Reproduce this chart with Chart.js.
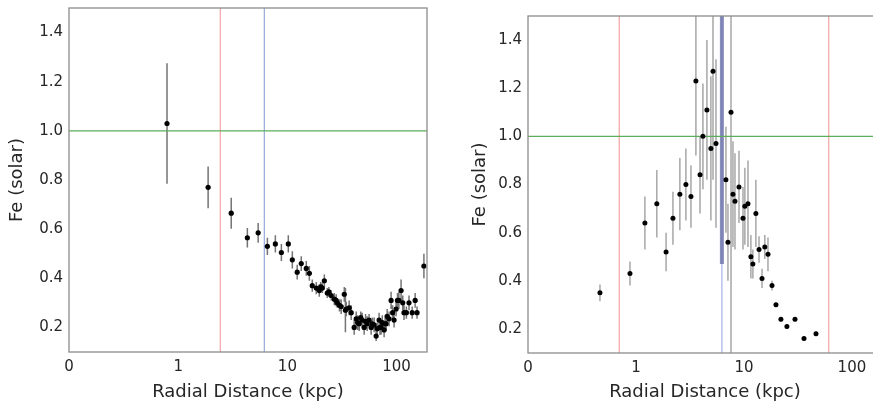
<!DOCTYPE html>
<html>
<head>
<meta charset="utf-8">
<script src="https://cdn.jsdelivr.net/npm/chart.js@4.4.1/dist/chart.umd.min.js"></script>
<style>
  html, body { margin: 0; padding: 0; overflow: hidden; background: #fff; }
  #wrap { position: relative; width: 873px; height: 401px; overflow: hidden; }
  canvas { position: absolute; top: 0; }
  #leftChart { left: 0; }
  #rightChart { left: 440px; }
</style>
</head>
<body>
<div id="wrap">
  <canvas id="leftChart" width="440" height="401"></canvas>
  <canvas id="rightChart" width="450" height="401"></canvas>
</div>
<script>
// 축 눈금
const xTickValues = [0.1, 1, 10, 100];
const xTickLabels = ['0', '1', '10', '100'];
const yTickValues = [0.2, 0.4, 0.6, 0.8, 1.0, 1.2, 1.4];

// 왼쪽 패널 (radial distance kpc, Fe solar, error)
const leftR = [0.79, 1.88, 3.06, 4.3, 5.4, 6.56, 7.76, 8.81, 10.2, 11.1, 12.3, 13.4, 14.9, 15.9, 16.9, 18.4, 19.6, 20.2, 20.9, 21.8,
  23.2, 24.0, 25.2, 26.9, 28.0, 28.6, 30.0, 31.1, 33.2, 34.0, 34.6, 36.8, 38.4, 40.9, 42.7, 44.0, 45.5, 47.0, 48.4, 50.5,
  52.0, 53.8, 56.0, 58.5, 60.0, 62.3, 65.0, 66.5, 69.2, 70.5, 72.2, 74.0, 76.9, 78.5, 80.2, 82.0, 85.4, 89.1, 92.0, 94.9,
  99.0, 102, 105, 110, 114, 117, 123, 130, 139, 148, 154, 178];
const leftFe = [1.03, 0.77, 0.665, 0.565, 0.585, 0.53, 0.54, 0.505, 0.54, 0.475, 0.425, 0.46, 0.44, 0.42, 0.37, 0.36, 0.35, 0.365, 0.36, 0.39,
  0.34, 0.345, 0.33, 0.315, 0.31, 0.30, 0.29, 0.285, 0.335, 0.27, 0.275, 0.28, 0.26, 0.20, 0.235, 0.22, 0.215, 0.24, 0.23, 0.20,
  0.225, 0.215, 0.23, 0.20, 0.215, 0.21, 0.165, 0.195, 0.23, 0.20, 0.20, 0.22, 0.19, 0.215, 0.215, 0.245, 0.235, 0.31, 0.26, 0.23,
  0.275, 0.31, 0.31, 0.35, 0.30, 0.26, 0.26, 0.30, 0.26, 0.31, 0.26, 0.45];
const leftErr = [0.245, 0.085, 0.063, 0.04, 0.04, 0.035, 0.035, 0.035, 0.035, 0.035, 0.03, 0.03, 0.03, 0.03, 0.025, 0.025, 0.025, 0.02, 0.02, 0.025,
  0.02, 0.02, 0.02, 0.025, 0.025, 0.02, 0.025, 0.03, 0.03, 0.09, 0.03, 0.03, 0.03, 0.03, 0.03, 0.03, 0.03, 0.025, 0.03, 0.03,
  0.03, 0.03, 0.025, 0.03, 0.025, 0.03, 0.02, 0.025, 0.03, 0.03, 0.03, 0.03, 0.03, 0.025, 0.03, 0.03, 0.03, 0.035, 0.03, 0.03,
  0.03, 0.03, 0.035, 0.045, 0.03, 0.03, 0.025, 0.03, 0.025, 0.03, 0.025, 0.05];
const leftRedR = 2.43;
const leftBlueR = 6.15;

// 오른쪽 패널
const rightR = [0.464, 0.88, 1.21, 1.56, 1.90, 2.20, 2.55, 2.90, 3.23, 3.59, 3.92, 4.17, 4.54, 4.94, 5.17, 5.51, 6.81, 7.11, 7.59, 7.91,
  8.26, 9.0, 9.8, 10.2, 10.9, 11.6, 12.1, 12.9, 13.8, 14.7, 15.6, 16.7, 18.2, 19.8, 22.0, 25.0, 29.7, 36.0, 46.5];
const rightFe = [0.35, 0.43, 0.64, 0.72, 0.52, 0.66, 0.76, 0.80, 0.75, 1.23, 0.84, 1.00, 1.11, 0.95, 1.27, 0.97, 0.82, 0.56, 1.10, 0.76,
  0.73, 0.79, 0.66, 0.71, 0.72, 0.50, 0.47, 0.68, 0.53, 0.41, 0.54, 0.51, 0.38, 0.30, 0.24, 0.21, 0.24, 0.16, 0.18];
const rightErr = [0.035, 0.05, 0.11, 0.14, 0.08, 0.11, 0.15, 0.15, 0.13, 0.31, 0.16, 0.22, 0.29, 0.30, 0.45, 0.35, 0.22, 0.16, 1.1, 0.22,
  0.20, 0.15, 0.13, 0.16, 0.18, 0.09, 0.06, 0.14, 0.055, 0.04, 0.05, 0.07, 0.02, 0.01, 0.01, 0.01, 0.01, 0.01, 0.01];
const rightRedR = [0.70, 61];
const rightBlueR = 6.25;
const rightBlueBand = [0.47, 1.5];

const solarFe = 1.0;
const xMin = 0.1, xMax = 190;
const yMin = 0.1, yMax = 1.5;

function points(r, fe) {
  return r.map((x, i) => ({ x: x, y: fe[i] }));
}

// 에러바: 각 점마다 (아래, 위, 끊김)
function errorBars(r, fe, err) {
  const out = [];
  r.forEach((x, i) => {
    out.push({ x: x, y: fe[i] - err[i] });
    out.push({ x: x, y: fe[i] + err[i] });
    out.push({ x: x, y: null });
  });
  return out;
}

function lineSet(data, color, width) {
  return {
    data: data,
    showLine: true,
    borderColor: color,
    borderWidth: width,
    pointRadius: 0,
    spanGaps: false
  };
}

const boxPlugin = {
  id: 'box',
  afterDatasetsDraw(chart) {
    const a = chart.chartArea;
    const ctx = chart.ctx;
    ctx.save();
    ctx.strokeStyle = '#8c8c8c';
    ctx.lineWidth = 1.3;
    ctx.strokeRect(a.left, a.top, a.right - a.left, a.bottom - a.top);
    ctx.restore();
  }
};

function makeOptions(yWidth, xHeight, padTop, padRight, yTitlePad) {
  return {
    responsive: false,
    animation: false,
    layout: { padding: { top: padTop, right: padRight, left: 0, bottom: 0 } },
    plugins: { legend: { display: false }, tooltip: { enabled: false } },
    scales: {
      x: {
        type: 'logarithmic',
        min: xMin,
        max: xMax,
        grid: { display: false, drawTicks: false },
        border: { display: false },
        afterBuildTicks(scale) {
          scale.ticks = xTickValues.map(v => ({ value: v }));
        },
        afterFit(scale) {
          scale.height = xHeight;
          scale.paddingLeft = 0;
          scale.paddingRight = 0;
        },
        ticks: {
          autoSkip: false,
          maxRotation: 0,
          padding: 6,
          color: '#262626',
          font: { family: 'DejaVu Sans', size: 15 },
          callback: (v, i) => xTickLabels[i]
        },
        title: {
          display: true,
          text: 'Radial Distance (kpc)',
          color: '#262626',
          padding: 0,
          font: { family: 'DejaVu Sans', size: 18, lineHeight: 1 }
        }
      },
      y: {
        min: yMin,
        max: yMax,
        grid: { display: false, drawTicks: false },
        border: { display: false },
        afterBuildTicks(scale) {
          scale.ticks = yTickValues.map(v => ({ value: v }));
        },
        afterFit(scale) {
          scale.width = yWidth;
          scale.paddingTop = 0;
          scale.paddingBottom = 0;
        },
        ticks: {
          padding: 6,
          color: '#262626',
          font: { family: 'DejaVu Sans', size: 15 },
          callback: v => v.toFixed(1)
        },
        title: {
          display: true,
          text: 'Fe (solar)',
          color: '#262626',
          padding: { top: yTitlePad, bottom: 0 },
          font: { family: 'DejaVu Sans', size: 18, lineHeight: 1 }
        }
      }
    }
  };
}

// 왼쪽 차트
new Chart(document.getElementById('leftChart'), {
  type: 'scatter',
  data: {
    datasets: [
      { data: points(leftR, leftFe), backgroundColor: '#000', borderColor: '#000', pointRadius: 2.6, borderWidth: 0 },
      lineSet([{ x: xMin, y: solarFe }, { x: xMax, y: solarFe }], '#5cad5c', 1.2),
      lineSet([{ x: leftRedR, y: yMin }, { x: leftRedR, y: yMax }], '#f2a3a3', 1.2),
      lineSet([{ x: leftBlueR, y: yMin }, { x: leftBlueR, y: yMax }], '#98a8dc', 1.2),
      lineSet(errorBars(leftR, leftFe, leftErr), 'rgba(70,70,70,0.75)', 1.5)
    ]
  },
  options: makeOptions(69, 49, 8, 13, 8),
  plugins: [boxPlugin]
});

// 오른쪽 차트
new Chart(document.getElementById('rightChart'), {
  type: 'scatter',
  data: {
    datasets: [
      { data: points(rightR, rightFe), backgroundColor: '#000', borderColor: '#000', pointRadius: 2.5, borderWidth: 0 },
      lineSet([{ x: xMin, y: solarFe }, { x: xMax, y: solarFe }], '#5cad5c', 1.2),
      lineSet([{ x: rightRedR[0], y: yMin }, { x: rightRedR[0], y: yMax }], '#f2a3a3', 1.2),
      lineSet([{ x: rightRedR[1], y: yMin }, { x: rightRedR[1], y: yMax }], '#f2a3a3', 1.2),
      lineSet([{ x: rightBlueR, y: rightBlueBand[0] }, { x: rightBlueR, y: rightBlueBand[1] }], 'rgba(105,112,168,0.78)', 4),
      lineSet([{ x: rightBlueR, y: yMin }, { x: rightBlueR, y: yMax }], '#a4b2e6', 1.2),
      lineSet(errorBars(rightR, rightFe, rightErr), 'rgba(120,120,120,0.65)', 1.5)
    ]
  },
  options: makeOptions(88, 48, 16, 8, 31),
  plugins: [boxPlugin]
});
</script>
</body>
</html>
